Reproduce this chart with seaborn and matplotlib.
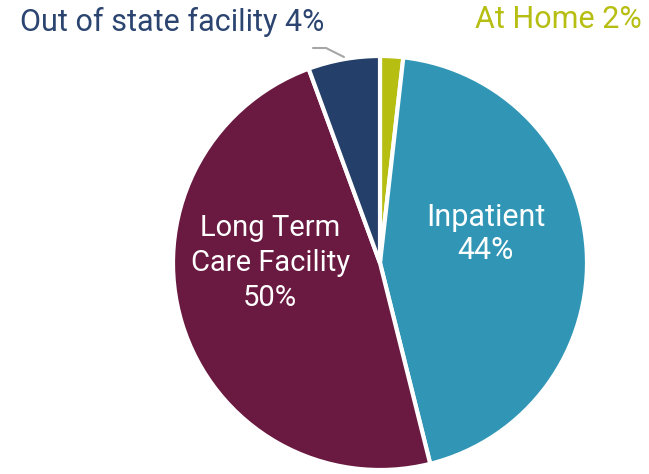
import matplotlib
matplotlib.use("Agg")
import matplotlib.pyplot as plt
import seaborn as sns
from matplotlib.lines import Line2D

sns.set_theme(style="white")
plt.rcParams['font.family'] = ['Roboto', 'DejaVu Sans']

# Data
categories = ["At Home", "Inpatient", "Long Term Care Facility", "Out of state facility"]
shares = [1.8, 44.3, 48.3, 5.6]
pct_labels = ["2%", "44%", "50%", "4%"]
colors = ["#B7BE12", "#3196B5", "#6A1A41", "#243F69"]

fig = plt.figure(figsize=(6.49, 4.74), dpi=100)
ax = fig.add_axes([173 / 649, 4 / 474, 414 / 649, 414 / 474])

wedges, _ = ax.pie(shares, colors=colors, startangle=90, counterclock=False,
                   radius=1.0,
                   wedgeprops=dict(edgecolor="white", linewidth=3))
ax.set_xlim(-1, 1)
ax.set_ylim(-1, 1)
ax.set_aspect("equal")

# inside labels
ax.text(0.51, 0.14, f"Inpatient\n{pct_labels[1]}", color="white", fontsize=22,
        ha="center", va="center", linespacing=1.2)
ax.text(-0.53, 0.0, f"Long Term\nCare Facility\n{pct_labels[2]}", color="white", fontsize=21,
        ha="center", va="center", linespacing=1.3)

# outside labels
fig.text(20 / 649, 1 - 22 / 474, f"{categories[3]} {pct_labels[3]}", color="#2B4470",
         fontsize=22, ha="left", va="center")
fig.text(642 / 649, 1 - 20 / 474, f"{categories[0]} {pct_labels[0]}", color="#B7BE12",
         fontsize=22, ha="right", va="center")

# leader line for the small slice
fig.add_artist(Line2D([313 / 649, 326 / 649, 344 / 649],
                      [1 - 48 / 474, 1 - 48 / 474, 1 - 57 / 474],
                      color="#A6A6A6", linewidth=1.5))

fig.savefig("out.png", dpi=100)
